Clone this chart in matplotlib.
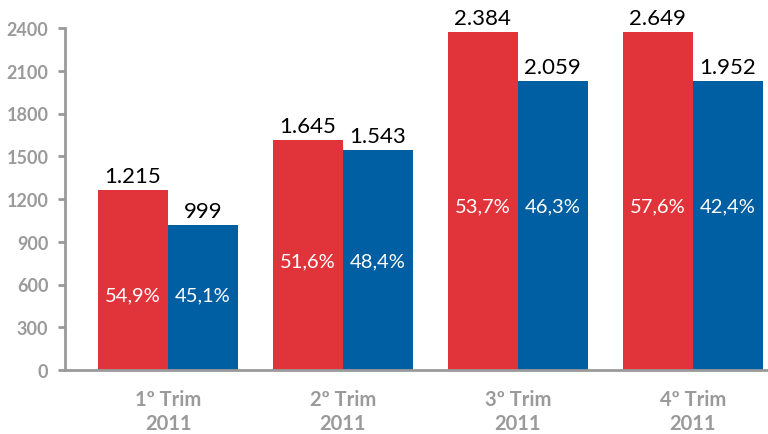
import matplotlib
matplotlib.use("Agg")
import matplotlib.pyplot as plt
import numpy as np

categories = ["1º Trim\n2011", "2º Trim\n2011", "3º Trim\n2011", "4º Trim\n2011"]
red_heights = [1263, 1614, 2372, 2372]
blue_heights = [1017, 1544, 2028, 2028]
red_labels = ["1.215", "1.645", "2.384", "2.649"]
blue_labels = ["999", "1.543", "2.059", "1.952"]
red_pct = ["54,9%", "51,6%", "53,7%", "57,6%"]
blue_pct = ["45,1%", "48,4%", "46,3%", "42,4%"]
pct_label_y = [526, 765, 1151, 1151]
yticks = [0, 300, 600, 900, 1200, 1500, 1800, 2100, 2400]

RED = "#E1343A"
BLUE = "#005EA2"
GRAY = "#9A9A9A"
FONT = "Lato"

fig = plt.figure(figsize=(7.68, 4.35), dpi=100)
ax = fig.add_axes([65/768, 1-371/435, 1-65/768, (371-29)/435])

x = np.arange(len(categories))
w = 0.4
ax.bar(x - w/2, red_heights, w, color=RED, zorder=2)
ax.bar(x + w/2, blue_heights, w, color=BLUE, zorder=2)

for i in range(len(categories)):
    ax.annotate(red_labels[i], (x[i] - w/2, red_heights[i]), xytext=(0, 4),
                textcoords="offset pixels", ha="center", va="bottom",
                fontsize=16, family=FONT, color="black", annotation_clip=False)
    ax.annotate(blue_labels[i], (x[i] + w/2, blue_heights[i]), xytext=(0, 4),
                textcoords="offset pixels", ha="center", va="bottom",
                fontsize=16, family=FONT, color="black", annotation_clip=False)
    ax.text(x[i] - w/2, pct_label_y[i], red_pct[i], ha="center", va="center",
            fontsize=14.5, family=FONT, color="white")
    ax.text(x[i] + w/2, pct_label_y[i], blue_pct[i], ha="center", va="center",
            fontsize=14.5, family=FONT, color="white")

ax.set_xlim(-0.589, 3.43)
ax.set_ylim(0, 2400)
ax.set_yticks(yticks)
ax.set_yticklabels([str(v) for v in yticks], fontsize=13, fontweight="bold",
                   color=GRAY, family=FONT)
ax.set_xticks(x)
ax.set_xticklabels(categories, fontsize=14.5, fontweight="bold", color=GRAY,
                   family=FONT, linespacing=1.22)
ax.tick_params(axis="x", length=0, pad=14)
ax.tick_params(axis="y", length=5, width=2, color=GRAY, pad=7)
for s in ["top", "right"]:
    ax.spines[s].set_visible(False)
for s in ["left", "bottom"]:
    ax.spines[s].set_color(GRAY)
    ax.spines[s].set_linewidth(2)

fig.savefig("out.png", dpi=100)
